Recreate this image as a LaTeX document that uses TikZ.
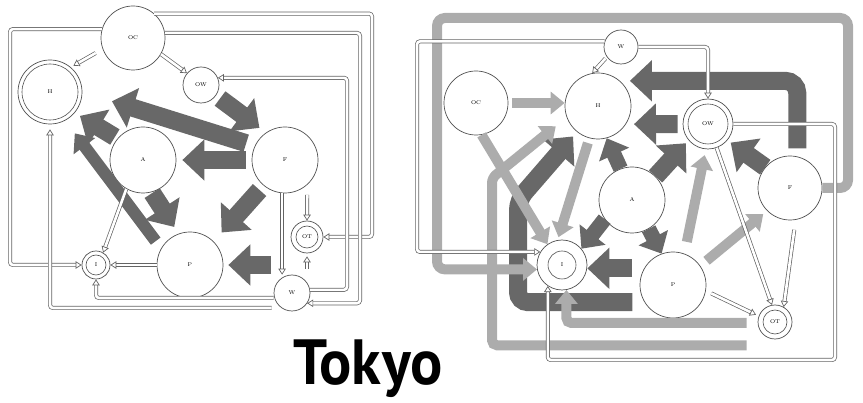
\documentclass[tikz,border=0pt]{standalone}
\usepackage{fontspec}
\newfontfamily\titlefont{PT Sans}
\usetikzlibrary{arrows.meta,calc}

\definecolor{ringline}{RGB}{80,80,80}
\definecolor{darkflow}{RGB}{104,104,104}
\definecolor{lightflow}{RGB}{172,172,172}
\definecolor{pipeline}{RGB}{100,100,100}

\tikzset{
  stock/.style={circle, draw=ringline, line width=0.7pt, fill=white, inner sep=0pt,
    minimum size=#1, font=\fontsize{5.5}{6}\selectfont},
  innerring/.style={draw=ringline, line width=0.6pt},
  pipe/.style={draw=pipeline, line width=0.7pt, double=white, double distance=2.6pt,
    rounded corners=3pt, -{Triangle[open, length=6pt, width=7.5pt]}},
  bigdark/.style={draw=darkflow, line width=18pt, -{Triangle[length=22pt, width=40pt]}},
  slimdark/.style={draw=darkflow, line width=12pt, -{Triangle[length=16pt, width=26pt]}},
  shortdark/.style={draw=darkflow, line width=15pt, -{Triangle[length=18pt, width=32pt]}},
  lightfat/.style={draw=lightflow, line width=10pt, -{Triangle[length=14pt, width=22pt]}},
}

\begin{document}
\begin{tikzpicture}[x=1pt, y=-1pt]
\path[use as bounding box] (0,0) rectangle (863,403);

% ---------- left model ----------
\node[stock=64pt] (lOC) at (133,38) {OC};
\node[stock=64pt] (lH) at (50,92) {H};
\node[stock=36pt] (lOW) at (201,85) {OW};
\node[stock=66pt] (lA) at (143,160) {A};
\node[stock=66pt] (lF) at (285,160) {F};
\node[stock=66pt] (lP) at (190,265) {P};
\node[stock=32pt] (lOT) at (307,237) {OT};
\node[stock=36pt] (lW) at (292,293) {W};
\node[stock=28pt] (lI) at (96,265) {I};
\draw[innerring] (lH.center) circle[radius=28pt];
\draw[innerring] (lOT.center) circle[radius=11pt];
\draw[innerring] (lI.center) circle[radius=10pt];

\coordinate (lx1) at (10,150);
\coordinate (lx2) at (372,150);
\coordinate (lx3) at (360,200);
\coordinate (lx4) at (347,200);

% strong flows
\draw[bigdark, shorten <=3pt, shorten >=6pt] (lA.140) -- (lH.-40);
\draw[bigdark, shorten <=9pt, shorten >=31pt] (lF.155) -- (lH.0);
\draw[bigdark, shorten <=5pt, shorten >=8pt] (lOW.-35) -- (lF.125);
\draw[bigdark, shorten <=6pt, shorten >=6pt] (lF.west) -- (lA.east);
\draw[bigdark, shorten <=1pt, shorten >=8pt] (lA.-75) -- (lP.110);
\draw[bigdark, shorten <=6pt, shorten >=12pt] (lF.230) -- (lP.45);
\draw[bigdark, shorten <=8pt, shorten >=5pt] (lW.north west |- lP.east) -- (lP.east);
\draw[slimdark, shorten <=9pt, shorten >=16pt] (lP.150) -- (lH.-62);

% weak links
\draw[pipe] (lOC.164) -| (lx1) |- (lI.west);
\draw[pipe] (lOC.-30) -- (lOW.140);
\draw[pipe, shorten <=8pt, shorten >=3pt] (lOC.200) -- (lH.50);
\draw[pipe] (lOC.49) -| (lx2) |- (lOT.east);
\draw[pipe] (lOC.9) -| (lx3) |- (lW.-34);
\draw[pipe] (lW.10) -| (lx4) |- (lOW.23);
\draw[pipe] ($(lW.west)+(0,5)$) -| (lI.south);
\draw[pipe, shorten >=5pt] ($(lW.west)+(-2,15)$) -| (lH.south);
\draw[pipe] (lA.240) -- (lI.60);
\draw[pipe] (lP.west) -- (lI.east);
\draw[pipe] (lF.265) -- (lF.265 |- lW.north);
\draw[pipe, shorten <=10pt] (lF.-48) -- (lOT.north);
\draw[pipe, shorten <=6pt, shorten >=3pt] (lOT.south |- lW.north) -- (lOT.south);

% ---------- right model ----------
\node[stock=34pt] (rW) at (621,47) {W};
\node[stock=64pt] (rOC) at (476,103) {OC};
\node[stock=66pt] (rH) at (598,106) {H};
\node[stock=50pt] (rOW) at (708,124) {OW};
\node[stock=66pt] (rA) at (632,200) {A};
\node[stock=64pt] (rF) at (790,188) {F};
\node[stock=50pt] (rI) at (562,265) {I};
\node[stock=66pt] (rP) at (673,285) {P};
\node[stock=34pt] (rOT) at (775,322) {OT};
\draw[innerring] (rOW.center) circle[radius=20pt];
\draw[innerring] (rI.center) circle[radius=14pt];
\draw[innerring] (rOT.center) circle[radius=12pt];

\coordinate (rx1) at (417,150);
\coordinate (rx2) at (835,360);
\coordinate (rx3) at (492,178);
\coordinate (rx4) at (848,18);
\coordinate (rx5) at (437,150);
\coordinate (rx6) at (518,200);

% strong flows
\draw[bigdark, rounded corners=12pt, shorten <=8pt, shorten >=10pt] (rF.77) |- (rH.49);
\draw[bigdark, shorten <=5pt, shorten >=8pt] (rOW.west) -- (rH.-33);
\draw[shortdark] (rA.110) -- (rH.-75);
\draw[bigdark, shorten >=4pt] (rA.45) -- (rOW.-140);
\draw[bigdark, shorten >=4pt] (rF.140) -- (rOW.-40);
\draw[shortdark] (rA.215) -- (rI.40);
\draw[shortdark] (rA.-60) -- (rP.110);
\draw[bigdark, shorten <=12pt] (rP.150) -- (rI.east |- rP.150);
\draw[bigdark, rounded corners=10pt, shorten <=12pt, shorten >=6pt] (rP.211) -| (rx6) -- (rH.-129);

% medium flows
\draw[lightfat, rounded corners=8pt] (rF.east) -| (rx4) -| (rx5) |- (rI.190);
\draw[lightfat, rounded corners=5pt, shorten >=14pt] ($(rOT.south west)+(-16,11)$) -| (rx3) -- (rH.200);
\draw[lightfat, rounded corners=5pt] ($(rOT.west)+(-11,1)$) -| (rI.-80);
\draw[lightfat, shorten <=4pt] (rOC.east) -- (rOC.east -| rH.west);
\draw[lightfat] (rOC.-80) -- (rI.125);
\draw[lightfat, shorten <=5pt, shorten >=3pt] (rH.-105) -- (rI.100);
\draw[lightfat, shorten <=12pt, shorten >=6pt] (rP.70) -- (rOW.-95);
\draw[lightfat, shorten <=8pt, shorten >=5pt] (rP.35) -- (rF.225);

% weak links
\draw[pipe] (rW.161) -| (rx1) |- (rI.149);
\draw[pipe] (rW.east) -| (rOW.north);
\draw[pipe, shorten <=2pt] (rW.215) -- (rH.100);
\draw[pipe] (rOW.east) -| (rx2) -| (rI.236);
\draw[pipe] (rOW.-70) -- (rOT.100);
\draw[pipe, shorten <=10pt] (rF.-80) -- (rOT.60);
\draw[pipe, shorten <=6pt, shorten >=3pt] (rP.-10) -- (rOT.160);

% ---------- caption ----------
\node[anchor=base, inner sep=0pt, font=\titlefont\bfseries\fontsize{62}{70}\selectfont] (title) at (368,385) {\scalebox{0.97}[1.03]{Tokyo}};
\end{tikzpicture}
\end{document}
